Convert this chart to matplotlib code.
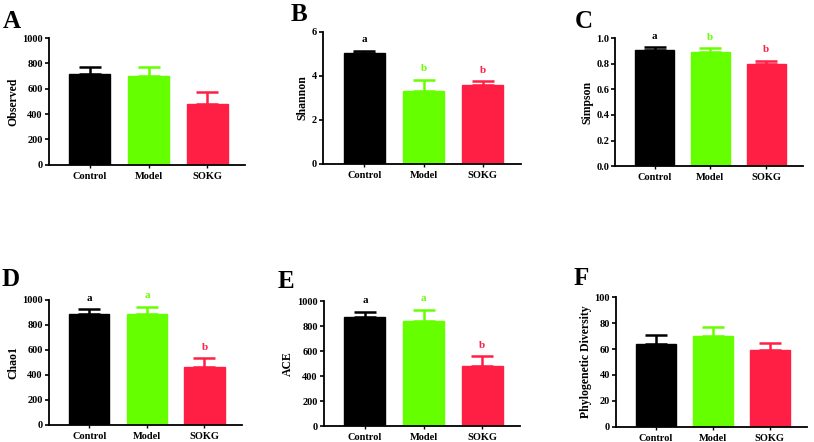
import numpy as np
import matplotlib
matplotlib.use('Agg')
import matplotlib.pyplot as plt

plt.rcParams['font.family'] = ['Liberation Serif', 'DejaVu Serif']
plt.rcParams['font.weight'] = 'bold'

groups = ['Control', 'Model', 'SOKG']
colors = ['#000000', '#66ff00', '#ff1f44']

# mean values and upper error (SD)
observed = [720, 698, 476]
observed_err = [52, 74, 95]
shannon = [5.03, 3.33, 3.59]
shannon_err = [0.12, 0.50, 0.17]
simpson = [0.906, 0.888, 0.794]
simpson_err = [0.021, 0.034, 0.028]
chao1 = [888, 888, 461]
chao1_err = [40, 59, 72]
ace = [872, 843, 484]
ace_err = [43, 88, 75]
pd_vals = [64.1, 70.0, 59.0]
pd_err = [7.0, 7.0, 6.0]

# significance letters (None = no letters shown)
shannon_sig = ['a', 'b', 'b']
simpson_sig = ['a', 'b', 'b']
chao1_sig = ['a', 'a', 'b']
ace_sig = ['a', 'a', 'b']

panels = [
    ('A', 'Observed', observed, observed_err, None, (0, 1000), np.arange(0, 1001, 200), '%d',
     [0.0602, 0.627, 0.241, 0.287], (0.015, 0.977)),
    ('B', 'Shannon', shannon, shannon_err, shannon_sig, (0, 6), np.arange(0, 7, 2), '%d',
     [0.397, 0.629, 0.243, 0.299], (0.367, 0.993)),
    ('C', 'Simpson', simpson, simpson_err, simpson_sig, (0, 1.0), np.arange(0, 1.01, 0.2), '%.1f',
     [0.756, 0.624, 0.230, 0.290], (0.717, 0.977)),
    ('D', 'Chao1', chao1, chao1_err, chao1_sig, (0, 1000), np.arange(0, 1001, 200), '%d',
     [0.0602, 0.0385, 0.237, 0.283], (0.013, 0.394)),
    ('E', 'ACE', ace, ace_err, ace_sig, (0, 1000), np.arange(0, 1001, 200), '%d',
     [0.398, 0.036, 0.241, 0.283], (0.351, 0.389)),
    ('F', 'Phylogenetic Diversity', pd_vals, pd_err, None, (0, 100), np.arange(0, 101, 20), '%d',
     [0.757, 0.034, 0.234, 0.294], (0.714, 0.396)),
]

fig = plt.figure(figsize=(8.14, 4.42), dpi=100)
x = np.arange(len(groups))

for letter, ylabel, vals, errs, sig, ylim, yticks, fmt, rect, lpos in panels:
    ax = fig.add_axes(rect)
    ax.bar(x, vals, width=0.7, color=colors, edgecolor=colors, linewidth=1)
    for i in range(len(groups)):
        ax.errorbar(x[i], vals[i], yerr=[[0], [errs[i]]], fmt='none',
                    ecolor=colors[i], elinewidth=1.8, capsize=8, capthick=1.8)
        if sig is not None:
            ax.text(x[i], vals[i] + errs[i] + (ylim[1] * 0.05), sig[i],
                    ha='center', va='bottom', fontsize=8, fontweight='bold',
                    color=colors[i])
    ax.set_xlim(-0.7, 2.65)
    ax.set_ylim(*ylim)
    ax.set_yticks(yticks)
    ax.set_yticklabels([fmt % t for t in yticks], fontsize=7.5, fontweight='bold')
    ax.set_xticks(x)
    ax.set_xticklabels(groups, fontsize=7.5, fontweight='bold')
    ax.set_ylabel(ylabel, fontsize=8.5, fontweight='bold', labelpad=2)
    ax.spines['top'].set_visible(False)
    ax.spines['right'].set_visible(False)
    ax.spines['left'].set_linewidth(1.3)
    ax.spines['bottom'].set_linewidth(1.3)
    ax.tick_params(axis='y', length=3, width=1.2, pad=1.5)
    ax.tick_params(axis='x', length=2, width=1.0, pad=3)
    fig.text(lpos[0], lpos[1], letter, fontsize=18, fontweight='bold',
             ha='center', va='top')

fig.savefig('out.png', dpi=100)
